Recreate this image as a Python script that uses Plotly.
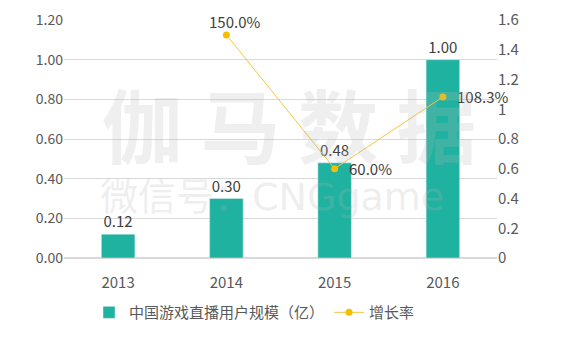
import plotly.graph_objects as go

years = ["2013", "2014", "2015", "2016"]
users = [0.12, 0.30, 0.48, 1.00]
growth = [None, 1.50, 0.60, 1.083]
growth_labels = ["", "150.0%", "60.0%", "108.3%"]
left_ticks = [0, 0.2, 0.4, 0.6, 0.8, 1.0, 1.2]
right_ticks = [0, 0.2, 0.4, 0.6, 0.8, 1.0, 1.2, 1.4, 1.6]
right_ticktext = ["0", "0.2", "0.4", "0.6", "0.8", "1", "1.2", "1.4", "1.6"]

FONT = "Noto Sans CJK SC, Noto Sans, sans-serif"
TXT = "#595959"
LBL = "#404040"

fig = go.Figure()
fig.add_trace(go.Bar(
    x=years, y=users, name="中国游戏直播用户规模（亿）",
    marker_color="#20B2A0", width=0.31,
    text=[f"{v:.2f}" for v in users], textposition="outside",
    textfont=dict(size=15, color=LBL, family=FONT), cliponaxis=False,
))
fig.add_trace(go.Scatter(
    x=years, y=growth, name="增长率", yaxis="y2", mode="lines+markers",
    line=dict(color="#F5C542", width=1), marker=dict(color="#F5BE00", size=7),
    cliponaxis=False,
))

# growth-rate data labels, anchored to the data points (category index on x)
for i, (g, lab) in enumerate(zip(growth, growth_labels)):
    if g is None:
        continue
    if i == 1:
        fig.add_annotation(x=i, y=g, xref="x", yref="y2", text=lab, showarrow=False,
                           xanchor="center", yanchor="bottom", xshift=8, yshift=1,
                           font=dict(size=15, color=LBL, family=FONT))
    else:
        fig.add_annotation(x=i, y=g, xref="x", yref="y2", text=lab, showarrow=False,
                           xanchor="left", yanchor="middle", xshift=12,
                           font=dict(size=15, color=LBL, family=FONT))

fig.add_annotation(text="<b>伽 马 数 据</b>", x=0.52, y=0.57, xref="paper", yref="paper",
                   xanchor="center", yanchor="middle",
                   showarrow=False, font=dict(size=80, color="rgba(180,180,180,0.22)", family=FONT))
fig.add_annotation(text="微信号：CNGgame", x=0.48, y=0.255, xref="paper", yref="paper",
                   xanchor="center", yanchor="middle",
                   showarrow=False, font=dict(size=38, color="rgba(180,180,180,0.22)",
                                              family="DejaVu Sans, Noto Sans CJK SC, sans-serif"))

fig.update_layout(
    width=563, height=343, margin=dict(l=64, r=66, t=20, b=85, autoexpand=False),
    paper_bgcolor="white", plot_bgcolor="white",
    font=dict(family=FONT, size=14, color=TXT),
    bargap=0.69, showlegend=True,
    legend=dict(orientation="h", x=0.44, xanchor="center", y=-0.16, yanchor="top",
                font=dict(size=15, color=TXT), itemwidth=30),
    xaxis=dict(type="category", categoryarray=years, range=[-0.5, 3.5], autorange=False,
               showgrid=False, showline=False, ticks="", ticklabelstandoff=14,
               tickfont=dict(size=15, color=TXT)),
    yaxis=dict(range=[0, 1.2], tickvals=left_ticks, tickformat=".2f",
               showgrid=True, gridcolor="#D9D9D9", gridwidth=1, zeroline=True,
               zerolinecolor="#D9D9D9", ticks="", tickfont=dict(size=14, color=TXT)),
    yaxis2=dict(range=[0, 1.6], tickvals=right_ticks, ticktext=right_ticktext,
                overlaying="y", side="right", showgrid=False, zeroline=False,
                ticks="", tickfont=dict(size=15, color=TXT)),
)
fig.write_html("out.html")
